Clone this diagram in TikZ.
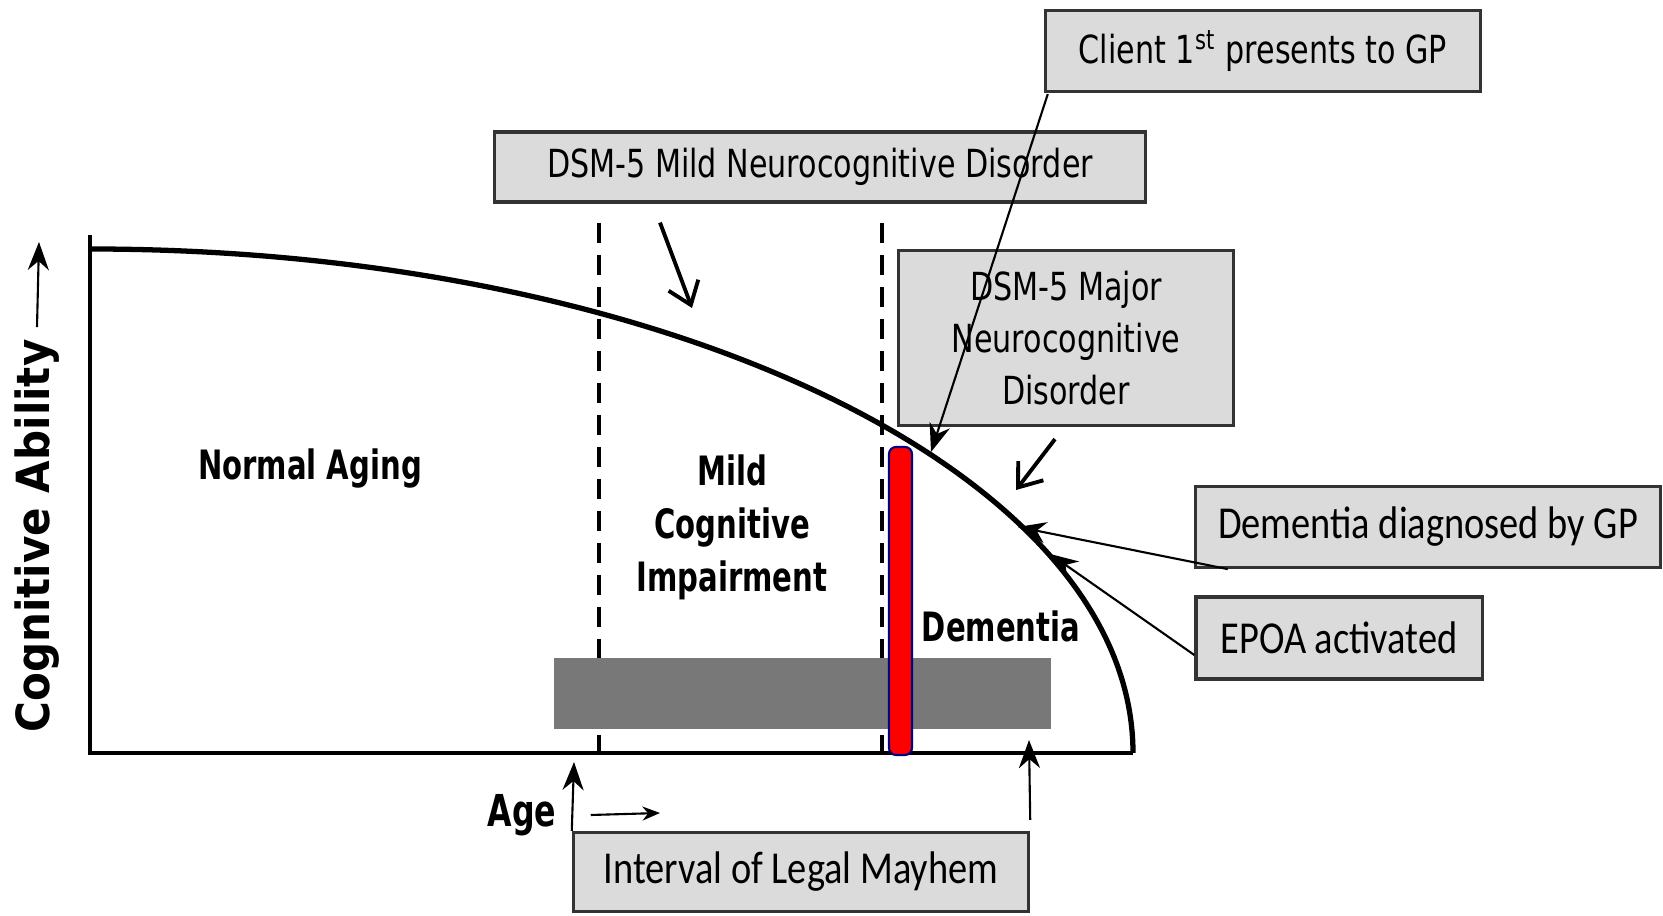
\documentclass[tikz,border=0pt]{standalone}
\usepackage{fontspec}
\setmainfont{DejaVu Sans}
\newfontfamily\boxfont[FakeStretch=0.78]{DejaVu Sans}
\newfontfamily\calfont[FakeStretch=0.84]{Carlito}
\newfontfamily\labfont[FakeStretch=0.72]{DejaVu Sans Bold}
\newfontfamily\axfont[FakeStretch=0.92]{DejaVu Sans Bold}
\usepackage{tikz}
\usetikzlibrary{arrows.meta,positioning}

\tikzset{
  infobox/.style={draw=black!80, fill=black!14, line width=0.9pt, inner sep=0pt, align=center},
  tahomatext/.style={font=\boxfont\fontsize{11}{14.8}\selectfont},
  calibritext/.style={font=\calfont\fontsize{13}{15}\selectfont},
  regionlab/.style={font=\labfont\fontsize{11.5}{15}\selectfont, align=center},
  pointer/.style={-{Stealth[length=8pt,width=6pt]}, line width=0.6pt},
  barb/.style={-{Straight Barb[length=6pt,width=9pt]}, line width=1.1pt},
  divider/.style={dash pattern=on 5.7pt off 3.4pt, line width=0.9pt}
}

\begin{document}
\begin{tikzpicture}[x=0.01cm, y=-0.01cm]
\useasboundingbox (0,0) rectangle (1663,916);
%%axis
\coordinate (origin) at (90,753);
\draw[line width=1pt] (90,235) -- (origin) -- (1133,753);
%%curve
\draw[line width=1.5pt] (90,249) arc[start angle=270, end angle=360, x radius=1043, y radius=504];
%%stage dividers
\draw[divider] (599,223) -- (599,753);
\draw[divider] (882,223) -- (882,753);
%%interval bar
\fill[black!53] (554,658) rectangle (1051,729);
\draw[fill=red, draw=blue!50!black, line width=0.6pt, rounded corners=2pt] (889,447) rectangle (912,755);
%%Labels
\node[regionlab] (normal) at (310,469) {Normal Aging};
\node[regionlab, font=\labfont\fontsize{11.5}{15.1}\selectfont] (mci) at (732,527) {Mild\\Cognitive\\Impairment};
\node[regionlab] (dementia) at (1001,626) {Dementia};
\node[regionlab, font=\labfont\fontsize{12.5}{15}\selectfont] (age) at (522,815) {Age};
\node[font=\axfont\fontsize{13}{15}\selectfont, rotate=90] (ylab) at (37,536) {Cognitive Ability};
\coordinate (ytop) at (39,242);
\draw[pointer] (ylab.east) -- (ytop);
\coordinate (agetip) at (660,813);
\draw[-{Stealth[length=5pt,width=4pt]}, line width=0.6pt] ([xshift=0.22cm]age.east) -- (agetip);
%%Boxes
\node[infobox, tahomatext, minimum width=6.51cm, minimum height=0.70cm] (mild) at (820,167) {DSM-5 Mild Neurocognitive Disorder};
\node[infobox, tahomatext, minimum width=4.35cm, minimum height=0.81cm] (client) at (1263,51) {Client 1\textsuperscript{st} presents to GP};
\node[infobox, tahomatext, minimum width=3.34cm, minimum height=1.75cm] (major) at (1066,338) {DSM-5 Major\\Neurocognitive\\Disorder};
\node[infobox, calibritext, minimum width=4.65cm, minimum height=0.81cm] (diag) at (1428,527) {Dementia diagnosed by GP};
\node[infobox, calibritext, minimum width=2.86cm, minimum height=0.82cm] (epoa) at (1339,638) {EPOA activated};
\node[infobox, calibritext, minimum width=4.55cm, minimum height=0.79cm] (interval) at (801,872) {Interval of Legal Mayhem};
%%Pointers
\coordinate (mildtip) at (692,308);
\coordinate (firstvisit) at (931,452);
\coordinate (majortip) at (1016,490);
\coordinate (diagtip) at (1018,527);
\coordinate (epoatip) at (1050,554);
\coordinate (intstart) at (574,762);
\coordinate (intend) at (1029,740);
\draw[barb] ([shift={(-160,19)}]mild.south) -- (mildtip);
\draw[pointer] ([shift={(4,1)}]client.south west) -- (firstvisit);
\draw[barb] ([shift={(-11,12)}]major.south) -- (majortip);
\draw[pointer] ([xshift=0.34cm]diag.south west) -- (diagtip);
\draw[pointer] ([yshift=-0.17cm]epoa.west) -- (epoatip);
\draw[pointer] (interval.north west) -- (intstart);
\draw[pointer] ([yshift=0.11cm]interval.north east) -- (intend);
\end{tikzpicture}
\end{document}
